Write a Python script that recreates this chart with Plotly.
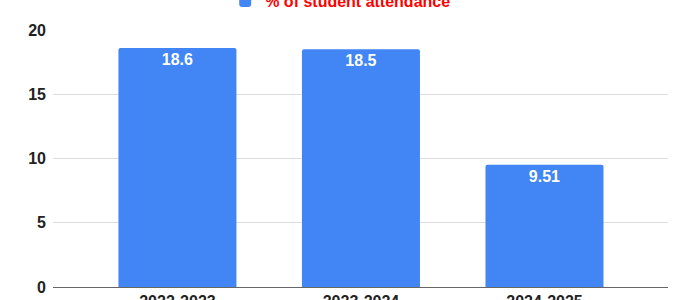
import plotly.graph_objects as go

categories = ["2022-2023", "2023-2024", "2024-2025"]
values = [18.6, 18.5, 9.51]
value_labels = ["18.6", "18.5", "9.51"]
series_name = "% of student attendance"
y_ticks = [0, 5, 10, 15, 20]

FONT = "Liberation Sans, Arial, Helvetica, sans-serif"

fig = go.Figure()
fig.add_trace(go.Bar(
    x=categories,
    y=values,
    name=series_name,
    text=value_labels,
    textposition="inside",
    insidetextanchor="end",
    textangle=0,
    textfont=dict(family=FONT, size=16, color="white", weight="bold"),
    marker=dict(color="#4285F4", line=dict(width=0)),
    width=0.643,
    showlegend=True,
))

fig.update_layout(
    width=700,
    height=300,
    margin=dict(l=53, r=32, t=30, b=13, autoexpand=False),
    paper_bgcolor="white",
    plot_bgcolor="white",
    barcornerradius=2,
    font=dict(family=FONT, size=16, color="#222222"),
    showlegend=True,
    legend=dict(
        orientation="h",
        x=0.28, xanchor="left",
        y=1.112, yanchor="middle",
        font=dict(family=FONT, size=16, color="#ff0000", weight="bold"),
        bgcolor="rgba(0,0,0,0)",
        itemwidth=30,
    ),
    xaxis=dict(
        type="category",
        range=[-0.678, 2.673],
        showgrid=False,
        showline=True,
        linecolor="#666666",
        linewidth=1,
        ticks="",
        tickfont=dict(family=FONT, size=16, color="#222222", weight="bold"),
    ),
    yaxis=dict(
        range=[0, 20],
        tickvals=y_ticks,
        showgrid=True,
        gridcolor="#dddddd",
        gridwidth=1,
        zeroline=False,
        showline=False,
        ticks="",
        ticklabelstandoff=6,
        tickfont=dict(family=FONT, size=16, color="#222222", weight="bold"),
    ),
)

fig.write_html("out.html")
